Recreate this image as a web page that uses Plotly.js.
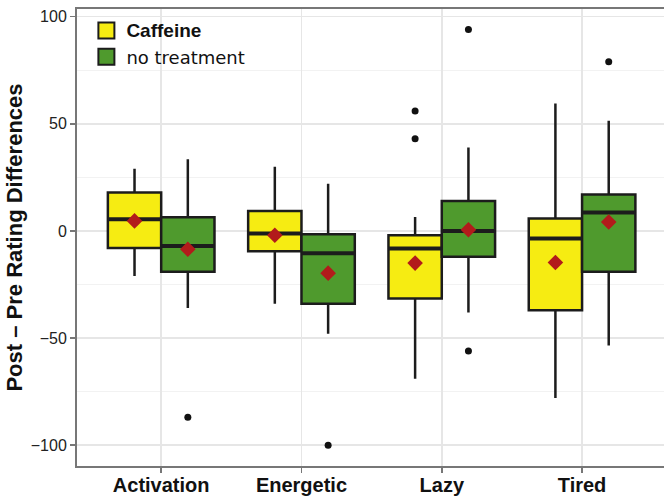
<!DOCTYPE html>
<html>
<head>
<meta charset="utf-8">
<script src="https://cdn.plot.ly/plotly-3.0.1.min.js"></script>
<style>html,body{margin:0;padding:0;background:#fff;}#chart{width:664px;height:498px;}</style>
</head>
<body>
<div id="chart"></div>
<script>
// ---- data ----
const categories = ['Activation', 'Energetic', 'Lazy', 'Tired'];
const seriesNames = ['Caffeine', 'no treatment'];

const cafQ1     = [-8, -9.5, -31.5, -37];
const cafMedian = [5.5, -1.2, -8.2, -3.5];
const cafQ3     = [18, 9.3, -2, 5.8];
const cafLower  = [-21, -34, -69, -78];
const cafUpper  = [29, 30, 6.5, 59.5];
const cafMean   = [4.7, -2, -15, -14.7];
const cafOutCat = ['Lazy', 'Lazy'];
const cafOutVal = [56, 43];

const ntQ1      = [-19, -34, -12, -19];
const ntMedian  = [-7, -10.4, 0, 8.6];
const ntQ3      = [6.4, -1.5, 14, 17];
const ntLower   = [-36, -48, -38, -53.5];
const ntUpper   = [33.5, 22, 39, 51.5];
const ntMean    = [-8.5, -19.7, 0.6, 4.2];
const ntOutCat  = ['Activation', 'Energetic', 'Lazy', 'Lazy', 'Tired'];
const ntOutVal  = [-87, -100, 94, -56, 79];

// ---- styling / layout helpers ----
const BOXW = 0.38;
const OFF = 0.19;
const yellow = '#F6EC12';
const green = '#4F9A2D';
const edge = '#1c1c1c';
const red = '#B21B1B';

const idx = c => categories.indexOf(c);
const posCaf = categories.map((c, i) => i - OFF);
const posNt = categories.map((c, i) => i + OFF);

function boxTrace(name, pos, q1, med, q3, lo, hi, fill) {
  return {
    type: 'box', name: name, x: pos,
    q1: q1, median: med, q3: q3, lowerfence: lo, upperfence: hi,
    width: BOXW, whiskerwidth: 0, boxpoints: false,
    fillcolor: fill, line: {color: edge, width: 2.5},
    showlegend: false, hoverinfo: 'skip'
  };
}
function medianTrace(pos, med) {
  const xs = [], ys = [];
  pos.forEach((p, i) => { xs.push(p - BOXW / 2, p + BOXW / 2, null); ys.push(med[i], med[i], null); });
  return {type: 'scatter', mode: 'lines', x: xs, y: ys, line: {color: edge, width: 4}, showlegend: false, hoverinfo: 'skip'};
}
function meanTrace(pos, mean) {
  return {type: 'scatter', mode: 'markers', x: pos, y: mean,
    marker: {symbol: 'diamond', size: 12, color: red}, showlegend: false, hoverinfo: 'skip'};
}
function outTrace(cats, vals, off) {
  return {type: 'scatter', mode: 'markers', x: cats.map(c => idx(c) + off), y: vals,
    marker: {size: 7, color: '#111'}, showlegend: false, hoverinfo: 'skip'};
}
function legendTrace(name, fill) {
  return {type: 'scatter', mode: 'markers', x: [null], y: [null], name: name,
    marker: {symbol: 'square', size: 16, color: fill, line: {color: edge, width: 2}},
    showlegend: true, hoverinfo: 'skip'};
}

const data = [
  boxTrace(seriesNames[0], posCaf, cafQ1, cafMedian, cafQ3, cafLower, cafUpper, yellow),
  boxTrace(seriesNames[1], posNt, ntQ1, ntMedian, ntQ3, ntLower, ntUpper, green),
  medianTrace(posCaf, cafMedian),
  medianTrace(posNt, ntMedian),
  meanTrace(posCaf, cafMean),
  meanTrace(posNt, ntMean),
  outTrace(cafOutCat, cafOutVal, -OFF),
  outTrace(ntOutCat, ntOutVal, OFF),
  legendTrace('<span style="font-family:\'Liberation Sans\';font-weight:bold;font-size:19px">' + seriesNames[0] + '</span>', yellow),
  legendTrace(seriesNames[1], green)
];

const layout = {
  width: 664, height: 498,
  margin: {l: 77, r: 0, t: 9, b: 32},
  paper_bgcolor: '#fff', plot_bgcolor: '#fff',
  font: {family: 'Liberation Sans, Arial, sans-serif', color: '#222'},
  showlegend: true,
  legend: {
    x: 0.016, y: 0.993, xanchor: 'left', yanchor: 'top',
    bgcolor: 'rgba(0,0,0,0)',
    font: {family: 'DejaVu Sans', size: 18, color: '#111'},
    tracegroupgap: 0, itemwidth: 30
  },
  xaxis: {
    range: [-0.6, 3.584],
    tickmode: 'array', tickvals: categories.map((c, i) => i), ticktext: categories,
    tickfont: {family: 'Liberation Sans, Arial', size: 20, color: '#111', weight: 'bold'},
    ticklabelstandoff: -5,
    showgrid: true, gridcolor: '#e6e6e6', gridwidth: 1.5,
    showline: true, linecolor: '#777', linewidth: 2, mirror: true,
    ticks: 'outside', ticklen: 5, tickcolor: '#777', tickwidth: 1.5,
    zeroline: false, fixedrange: true
  },
  yaxis: {
    range: [-109.7, 103.6],
    tickvals: [-100, -50, 0, 50, 100],
    tickfont: {family: 'Liberation Sans, Arial', size: 16, color: '#222'},
    showgrid: true, gridcolor: '#e6e6e6', gridwidth: 1.5,
    minor: {tickvals: [-75, -25, 25, 75], showgrid: true, gridcolor: '#f2f2f2', gridwidth: 1, ticks: ''},
    showline: true, linecolor: '#777', linewidth: 2, mirror: true,
    ticks: 'outside', ticklen: 5, tickcolor: '#777', tickwidth: 1.5,
    zeroline: false, fixedrange: true,
    title: {text: 'Post \u2013 Pre Rating Differences', font: {family: 'Liberation Sans, Arial', size: 22, color: '#111', weight: 'bold'}, standoff: 2}
  }
};

Plotly.newPlot('chart', data, layout, {displayModeBar: false, staticPlot: true});
</script>
</body>
</html>
